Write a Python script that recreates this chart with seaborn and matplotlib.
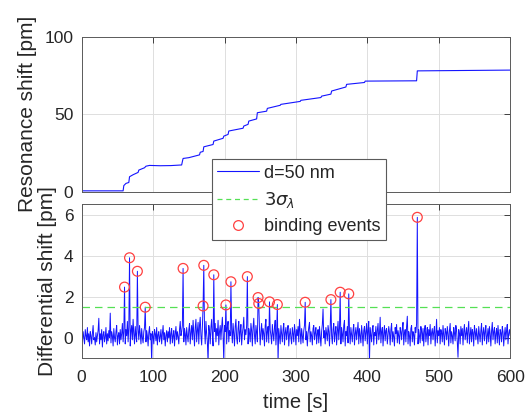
import matplotlib
matplotlib.use("Agg")
import matplotlib.pyplot as plt
from matplotlib.lines import Line2D
import numpy as np
import seaborn as sns

# ---------------- data ----------------
# Resonance shift (top panel): staircase
top_t = [0, 58, 59, 62, 66, 67, 72, 79, 80, 88, 90, 95, 110, 125, 140, 141, 142, 150,
         165, 166, 170, 171, 184, 185, 198, 199, 205, 206, 226, 227, 233, 234, 245, 246,
         259, 260, 278, 279, 306, 307, 335, 336, 349, 350, 370, 371, 396, 397, 469, 470, 600]
top_y = [0.6, 0.6, 4.0, 5.4, 6.0, 9.7, 11.0, 12.5, 14.0, 15.5, 16.5, 17.0, 16.8, 16.9, 17.3,
         19.5, 21.5, 22.0, 23.8, 25.5, 26.0, 29.0, 30.5, 32.7, 34.5, 35.9, 37.0, 39.2, 41.0,
         42.4, 43.5, 45.6, 47.0, 51.0, 52.0, 53.8, 55.8, 56.4, 58.3, 59.0, 60.8, 61.7, 63.0,
         65.0, 67.6, 69.3, 70.5, 71.4, 71.6, 78.0, 78.5]

# Differential shift (bottom panel), one value per second, t = 0 ... 600
diff_shift = [
    0.1, -0.2, 0.3, 0.0, -0.3, 0.4, 0.1, -0.1, 0.5, -0.2, 0.2, -0.4, 0.3, 0.1, -0.3, 0.2, 0.6, -0.1, 0.0, -0.35,
    0.25, -0.2, 0.1, 0.35, 0.95, -0.3, 0.2, -0.1, 0.4, -0.45, 0.15, 0.3, -0.2, 0.05, 0.5, -0.3, 0.2, -0.15, 0.35, 0.0,
    1.2, -0.25, 0.3, 0.1, -0.4, 0.45, 0.0, -0.2, 0.3, 0.6, -0.35, 0.1, 0.25, -0.3, 0.4, -0.1, 0.2, 0.7, -0.2, 0.3,
    2.47, -0.3, 0.4, 0.1, 0.8, -0.2, 0.5, 3.9, -0.4, 0.3, 0.6, -0.1, 0.9, 0.2, -0.3, 0.55, 0.1, -0.2, 3.24, 0.4,
    -0.1, 0.6, 0.2, -0.3, 0.45, 0.0, -0.25, 0.3, 0.5, 1.49, -0.2, 0.35, 0.1, -0.4, 0.25, 0.55, -0.1, 0.2, -1.2, 0.3,
    0.1, -0.3, 0.4, 0.2, -0.15, 0.5, -0.35, 0.15, 0.3, -0.2, 0.05, 0.4, -0.3, 0.2, 0.6, -0.1, 0.25, -0.4, 0.1, 0.35,
    -0.2, 0.3, 0.0, 0.5, -0.3, 0.2, 0.45, -0.25, 0.1, 0.35, -0.4, 0.2, 0.55, -0.1, 0.3, 0.05, -0.3, 0.4, 0.8, 0.1,
    0.3, 0.6, 3.38, -0.2, 0.45, 0.2, -0.35, 0.5, 0.1, -0.2, 0.4, 0.7, -0.3, 0.25, 0.6, -0.1, 0.85, 0.2, -0.4, 0.5,
    0.9, -0.2, 0.35, 0.75, -0.3, 0.6, 1.0, 0.1, -0.35, 0.5, 1.55, 3.53, 0.4, -0.3, 0.8, 0.2, -0.2, -1.2, 0.6, 0.3,
    -0.3, 0.5, 0.9, 0.1, -0.4, 3.07, 0.3, 0.7, -0.2, 0.45, 0.1, 0.85, -0.35, 0.3, 0.6, -0.1, 0.5, 1.0, 0.2, -1.2,
    0.6, 0.3, 1.6, -0.3, 0.5, 0.8, -0.2, 0.35, 0.1, 2.73, 0.4, -0.25, 0.7, 0.2, -0.4, 0.55, 0.9, 0.0, -0.3, 0.45,
    0.8, -0.2, 0.3, 0.65, -0.35, 0.2, 0.5, 1.0, -0.1, 0.4, 0.15, 0.6, 2.98, -0.3, 0.45, 0.2, -0.2, 0.7, 0.35, -0.4,
    0.5, 0.95, 0.1, -0.3, 0.6, 0.25, -0.2, 1.96, 1.67, 0.4, -0.35, 0.3, 0.7, -0.1, 0.45, 0.2, -0.4, 0.6, 0.9, -0.2,
    0.3, 0.55, -0.25, 1.75, 0.4, 0.1, -0.3, 0.65, 0.2, -0.15, 0.5, 0.85, -0.35, 0.3, 1.62, -1.2, 0.45, 0.1, -0.3, 0.6,
    0.2, -0.2, 0.4, 0.7, -0.35, 0.25, 0.5, -0.1, 0.3, 0.6, -0.4, 0.15, 0.45, 0.0, -0.3, 0.5, 0.2, -0.2, 0.65, 0.3,
    -0.35, 0.4, 0.1, 0.55, -0.2, 0.9, 0.25, -0.3, 0.45, 0.1, -0.25, 0.35, 0.6, 1.73, -0.1, 0.3, -0.4, 0.2, 0.5, 0.75,
    -0.2, 0.3, 0.1, -0.35, 0.45, 0.6, -0.1, 0.25, 0.5, -0.3, 0.2, 0.4, -0.25, 0.55, 0.1, -0.4, 0.3, 0.65, 1.4, 0.0,
    0.35, -0.3, 0.5, 0.2, -0.15, 0.6, 0.3, -0.4, 0.45, 1.86, 0.1, -0.3, 0.4, 0.7, -0.2, 0.25, 0.55, -0.35, 0.3, 0.8,
    -0.1, 0.45, 2.22, -0.3, 0.5, 0.2, -0.2, 0.6, 0.85, -0.4, 0.3, 0.1, 0.55, -0.25, 2.14, 0.35, -0.3, 0.5, 0.15, -0.2,
    0.4, 0.65, -0.35, 0.2, 0.5, -0.1, 0.3, 0.75, -0.3, 0.45, 0.1, -0.25, 0.6, 0.2, -0.4, 0.35, 0.55, -0.15, 0.3, 0.7,
    -0.3, 0.4, 0.8, -1.2, 0.5, 0.15, -0.2, 0.45, 0.6, -0.35, 0.25, 0.1, 0.55, -0.3, 0.35, 0.7, -0.1, 0.2, 1.0, -0.25,
    0.3, 0.5, -0.4, 0.2, 0.6, -0.15, 0.35, 0.45, -0.3, 0.1, 0.55, 0.25, -0.35, 0.4, 0.7, -0.2, 0.3, 0.05, -0.4, 0.5,
    0.2, 0.65, -0.25, 0.35, 0.1, -0.3, 0.5, 0.3, -0.1, 0.45, 0.75, -0.35, 0.2, 0.4, -0.2, 0.55, 1.05, -0.3, 0.3, 0.1,
    -0.4, 0.45, 0.6, -0.2, 0.3, 0.15, -0.35, 0.5, 0.25, 0.7, 5.87, -0.3, 0.4, 0.1, -0.25, 0.55, 0.3, -0.15, 0.45, -0.4,
    0.35, 0.6, -0.2, 0.2, 0.5, -0.35, 0.4, 0.1, 0.65, -0.3, 0.25, 0.45, -0.1, 0.3, 0.55, -0.4, 0.2, 0.9, -0.25, 0.35,
    0.1, 0.5, -0.3, 0.4, 0.25, -0.2, 0.6, 0.15, -0.35, 0.45, 0.3, -0.1, 0.55, 0.2, -0.4, 0.35, 0.7, -0.25, 0.3, 0.1,
    -0.3, 0.5, 0.25, -0.15, 0.6, 0.35, -0.2, -0.95, 0.4, 0.2, -0.3, 0.55, 0.1, 0.45, -0.35, 0.3, 0.65, -0.1, 0.2, 0.5,
    -0.25, 0.35, 0.8, -0.3, 0.15, 0.5, -0.2, 0.4, 0.25, -0.4, 0.6, 0.3, -0.1, 0.45, 0.1, -0.3, 0.55, 0.2, -0.2, 0.35,
    0.7, -0.35, 0.25, 0.5, -0.15, 0.3, 0.6, -0.3, 0.1, 0.45, -0.2, 0.55, 0.2, -0.4, 0.35, 0.75, -0.1, 0.3, 0.5, -0.3,
    0.2, 0.45, -0.25, 0.6, 0.1, -0.35, 0.4, 0.25, -0.2, 0.55, 0.3, -0.4, 0.15, 0.5, -0.1, 0.35, 0.65, -0.3, 0.2, 0.4,
    0.1,
]
diff_time = list(range(len(diff_shift)))

# Binding events (circles)
event_t = [60, 67, 78, 89, 142, 170, 171, 185, 202, 209, 232, 247, 248, 263, 274, 313, 349, 362, 374, 470]
event_y = [2.47, 3.9, 3.24, 1.49, 3.38, 1.55, 3.53, 3.07, 1.6, 2.73, 2.98, 1.96, 1.67, 1.75, 1.62,
           1.73, 1.86, 2.22, 2.14, 5.87]

threshold = 1.5  # 3 sigma_lambda
x_ticks = [0, 100, 200, 300, 400, 500, 600]
top_yticks = [0, 50, 100]
bot_yticks = [0, 2, 4, 6]

legend_labels = ["d=50 nm", r"$3\sigma_\lambda$", "binding events"]

# ---------------- style ----------------
sns.set_theme(style="whitegrid")
plt.rcParams["font.family"] = ["Liberation Sans", "DejaVu Sans"]
txt = "#262626"
blue = "#1414ff"
green = "#55e055"
red = "#ff4040"

fig = plt.figure(figsize=(5.27, 4.16), dpi=100)
ax1 = fig.add_axes([0.155, 0.539, 0.813, 0.3726])
ax2 = fig.add_axes([0.155, 0.1387, 0.813, 0.370])

sns.lineplot(x=top_t, y=top_y, ax=ax1, color=blue, linewidth=0.8,
             estimator=None, sort=False)
sns.lineplot(x=diff_time, y=diff_shift, ax=ax2, color=blue, linewidth=0.7,
             estimator=None, sort=False)
ax2.axhline(threshold, color=green, linewidth=0.9, dashes=(6, 4))
sns.scatterplot(x=event_t, y=event_y, ax=ax2, marker="o", s=50,
                facecolor="none", edgecolor=red, linewidth=0.9, zorder=5)

for ax in (ax1, ax2):
    ax.set_facecolor("white")
    ax.set_xlim(0, 600)
    ax.set_xticks(x_ticks)
    ax.grid(True, color="#dedede", linewidth=0.7)
    ax.tick_params(direction="in", length=4, width=0.6, color=txt,
                   labelsize=12.5, labelcolor=txt, top=True, right=True)
    ax.tick_params(axis="y", pad=6)
    ax.tick_params(axis="x", pad=8.5)
    for sp in ax.spines.values():
        sp.set_visible(True)
        sp.set_color("#5a5a5a")
        sp.set_linewidth(0.7)

ax1.set_ylim(0, 100)
ax1.set_yticks(top_yticks)
ax1.set_xticklabels([])
ax2.set_ylim(-1, 6.5)
ax2.set_yticks(bot_yticks)
ax2.set_xticklabels([str(v) for v in x_ticks])

ax1.set_ylabel("Resonance shift [pm]", fontsize=15, color=txt)
ax2.set_ylabel("Differential shift [pm]", fontsize=15, color=txt)
ax2.set_xlabel("time [s]", fontsize=14.5, color=txt)
ax1.yaxis.set_label_coords(-0.105, 0.5)
ax2.yaxis.set_label_coords(-0.058, 0.5)
ax2.xaxis.set_label_coords(0.5, -0.225)

handles = [
    Line2D([], [], color=blue, linewidth=0.8),
    Line2D([], [], color=green, linewidth=0.9, dashes=(4, 3)),
    Line2D([], [], color=red, marker="o", linestyle="none", markersize=7,
           markerfacecolor="none", markeredgewidth=0.9),
]
leg = fig.legend(handles, legend_labels, loc="upper left",
                 bbox_to_anchor=(0.402, 0.617), fontsize=13, frameon=True,
                 fancybox=False, framealpha=1, edgecolor="#5a5a5a",
                 handlelength=2.3, handletextpad=0.3, borderaxespad=0,
                 borderpad=0.3, labelspacing=0.45)
leg.get_frame().set_linewidth(0.8)
for t in leg.get_texts():
    t.set_color(txt)

fig.savefig("out.png", dpi=100)
